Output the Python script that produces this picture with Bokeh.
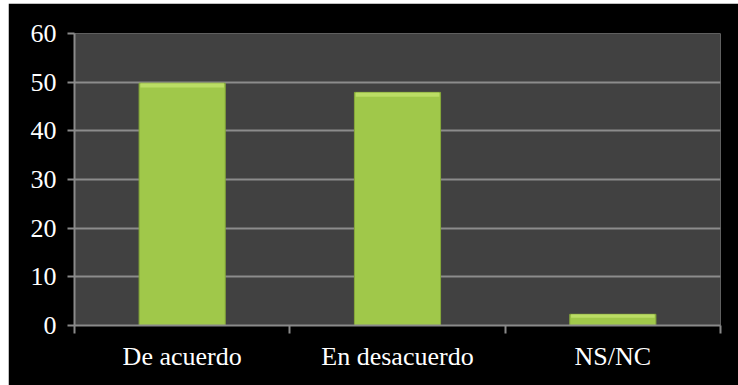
from bokeh.plotting import figure
from bokeh.models import FixedTicker, Range1d, Spacer
from bokeh.layouts import column, row
from bokeh.embed import file_html
from bokeh.resources import INLINE

categories = ["De acuerdo", "En desacuerdo", "NS/NC"]
values = [49.8, 47.9, 2.3]
y_ticks = [0, 10, 20, 30, 40, 50, 60]

x_centers = [i + 0.5 for i in range(len(categories))]
boundaries = [float(i) for i in range(len(categories) + 1)]

p = figure(width=730, height=382, output_backend="svg", toolbar_location=None,
           x_range=Range1d(0, len(categories)), y_range=Range1d(0, 60),
           min_border_left=66, min_border_right=18, min_border_top=30, min_border_bottom=60)

p.background_fill_color = "#414141"
p.border_fill_color = "#000000"
p.outline_line_color = None

bw = 0.4
p.vbar(x=x_centers, top=values, bottom=0, width=bw, fill_color="#a0c84a",
       line_color="#86a83a", line_width=1)
# top highlight band (bevel look)
p.vbar(x=x_centers, top=values, bottom=[v - min(0.9, v * 0.3) for v in values],
       width=bw * 0.97, fill_color="#c2e26c", fill_alpha=0.8, line_color=None)

# axes
p.yaxis.ticker = FixedTicker(ticks=y_ticks)
p.xaxis.ticker = FixedTicker(ticks=x_centers, minor_ticks=boundaries)
p.xaxis.major_label_overrides = {x: c for x, c in zip(x_centers, categories)}

for ax in (p.xaxis[0], p.yaxis[0]):
    ax.axis_line_color = "#8a8a8a"
    ax.axis_line_width = 2
    ax.major_label_text_font = "Liberation Serif"
    ax.major_label_text_font_size = "26px"
    ax.major_label_text_color = "#ffffff"

p.yaxis.major_tick_line_color = "#8a8a8a"
p.yaxis.major_tick_line_width = 2
p.yaxis.major_tick_out = 7
p.yaxis.major_tick_in = 0
p.yaxis.minor_tick_line_color = None
p.yaxis.major_label_standoff = 11

p.xaxis.major_tick_line_color = None
p.xaxis.minor_tick_line_color = "#8a8a8a"
p.xaxis.minor_tick_line_width = 2
p.xaxis.minor_tick_out = 8
p.xaxis.minor_tick_in = 0
p.xaxis.major_label_standoff = 8

p.xgrid.grid_line_color = None
p.ygrid.grid_line_color = "#8c8c8c"
p.ygrid.grid_line_width = 2
p.ygrid.ticker = FixedTicker(ticks=y_ticks)

layout = column(Spacer(height=3, width=738), row(Spacer(width=8, height=382), p),
                spacing=0)

open("out.html", "w").write(file_html(layout, INLINE))
